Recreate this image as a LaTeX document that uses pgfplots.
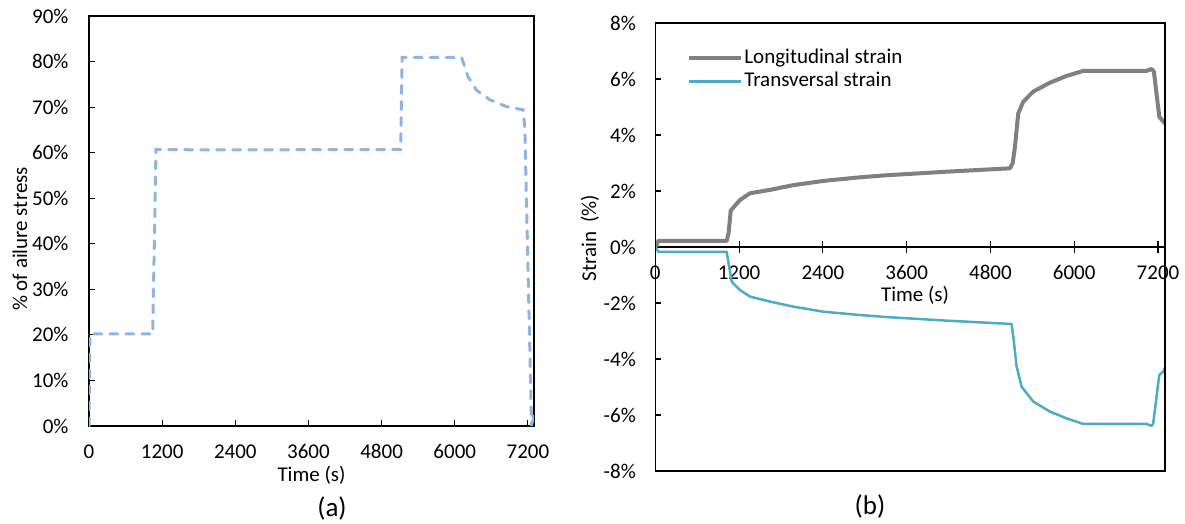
\documentclass[border=0pt]{standalone}
\usepackage{pgfplots}
\pgfplotsset{compat=1.18}
\usepackage{fontspec}
\setmainfont{Carlito}
\definecolor{stressblue}{RGB}{142,180,227}
\definecolor{lgray}{RGB}{128,128,128}
\definecolor{tblue}{RGB}{75,172,198}
\newcommand{\fs}{\fontsize{21}{24}\selectfont}
\begin{document}
\begin{tikzpicture}
\path[use as bounding box] (0,0) rectangle (1185pt,-524pt);
% ---------- (a) ----------
\begin{axis}[
  at={(89pt,-426pt)}, anchor=south west, scale only axis,
  width=445pt, height=410pt,
  xmin=0, xmax=7300, ymin=0, ymax=90,
  xtick={0,1200,2400,3600,4800,6000,7200},
  xticklabels={0,1200,2400,3600,4800,6000,7200},
  ytick={0,10,20,30,40,50,60,70,80,90},
  yticklabels={0\%,10\%,20\%,30\%,40\%,50\%,60\%,70\%,80\%,90\%},
  tick align=inside, tick pos=left, major tick length=6pt,
  axis line style={line width=1.3pt},
  every tick/.style={line width=1.1pt, black},
  tick label style={font=\fs},
  xticklabel style={yshift=-15pt},
  yticklabel style={xshift=-17pt},
]
\addplot[stressblue, line width=3pt, line cap=round, dash pattern=on 8pt off 8pt] coordinates {
(0,0) (15,20.2) (1045,20.2) (1099,60.7) (2000,60.6) (5112,60.7) (5138,80.9)
(6112,80.9) (6216,76.7) (6358,73.7) (6576,71.6) (6850,70.1) (7122,69.4)
(7150,65) (7260,0) (7280,2.5) (7300,1)
};
\end{axis}
\node[font=\fs] at (311.5pt,-475pt) {Time (s)};
\node[font=\fontsize{27}{30}\selectfont] at (332pt,-508pt) {(a)};
\node[font=\fs, rotate=90] at (20pt,-239pt) {\% of ailure stress};
% ---------- (b) ----------
\begin{axis}[
  at={(655.3pt,-471pt)}, anchor=south west, scale only axis,
  width=509.7pt, height=448pt,
  xmin=0, xmax=7300, ymin=-8, ymax=8,
  axis x line=middle, axis y line=left,
  hide obscured x ticks=false, hide obscured y ticks=false,
  axis line style={-, line width=1.3pt},
  xtick={0,1200,2400,3600,4800,6000,7200},
  xticklabels={0,1200,2400,3600,4800,6000,7200},
  ytick={-8,-6,-4,-2,0,2,4,6,8},
  yticklabels={-8\%,-6\%,-4\%,-2\%,0\%,2\%,4\%,6\%,8\%},
  ytick align=inside, xtick align=center, major tick length=12pt,
  every tick/.style={line width=1.1pt, black},
  y tick style={/pgfplots/major tick length=6pt},
  tick label style={font=\fs},
  xticklabel style={yshift=-9pt},
  yticklabel style={xshift=-16pt},
  legend cell align=left,
  legend style={at={(rel axis cs:0.0616,0.945)}, anchor=north west, draw=none, fill=none,
    inner sep=0pt, font=\fs, row sep=2pt,
    nodes={inner sep=1.5pt, text height=14pt, text depth=4pt}},
  legend image code/.code={\draw[#1] (0pt,0pt) -- (52pt,0pt);},
  after end axis/.code={\draw[line width=1.3pt] (rel axis cs:0,0) rectangle (rel axis cs:1,1);},
]
\addplot[lgray, line width=4pt, line join=round] coordinates {
(0,0) (43,0.22) (1022,0.22) (1050,0.5) (1080,1.30) (1213,1.68) (1356,1.92) (1643,2.04)
(1977,2.21) (2406,2.36) (2932,2.49) (3300,2.56) (4172,2.69) (5079,2.81) (5118,2.99)
(5151,3.58) (5198,4.77) (5270,5.19) (5413,5.55) (5652,5.87) (5891,6.11) (6130,6.29)
(7037,6.29) (7108,6.36) (7141,6.26) (7218,4.65) (7275,4.48) (7300,4.42)
};
\addlegendentry{Longitudinal strain}
\addplot[tblue, line width=2.5pt, line join=round] coordinates {
(0,0) (43,-0.17) (1022,-0.17) (1094,-1.24) (1213,-1.54) (1356,-1.77) (1643,-1.95)
(1977,-2.13) (2406,-2.31) (2932,-2.43) (3300,-2.50) (4172,-2.63) (5103,-2.75)
(5127,-3.2) (5175,-4.27) (5246,-4.99) (5413,-5.52) (5652,-5.88) (5891,-6.12)
(6130,-6.32) (7037,-6.32) (7108,-6.39) (7131,-6.30) (7218,-4.57) (7275,-4.45) (7300,-4.3)
};
\addlegendentry{Transversal strain}
\end{axis}
\node[font=\fs] at (915pt,-295pt) {Time (s)};
\node[font=\fontsize{27}{30}\selectfont] at (870pt,-506pt) {(b)};
\node[font=\fs, rotate=90] at (590pt,-238pt) {Strain\ \ (\%)};
\end{tikzpicture}
\end{document}
